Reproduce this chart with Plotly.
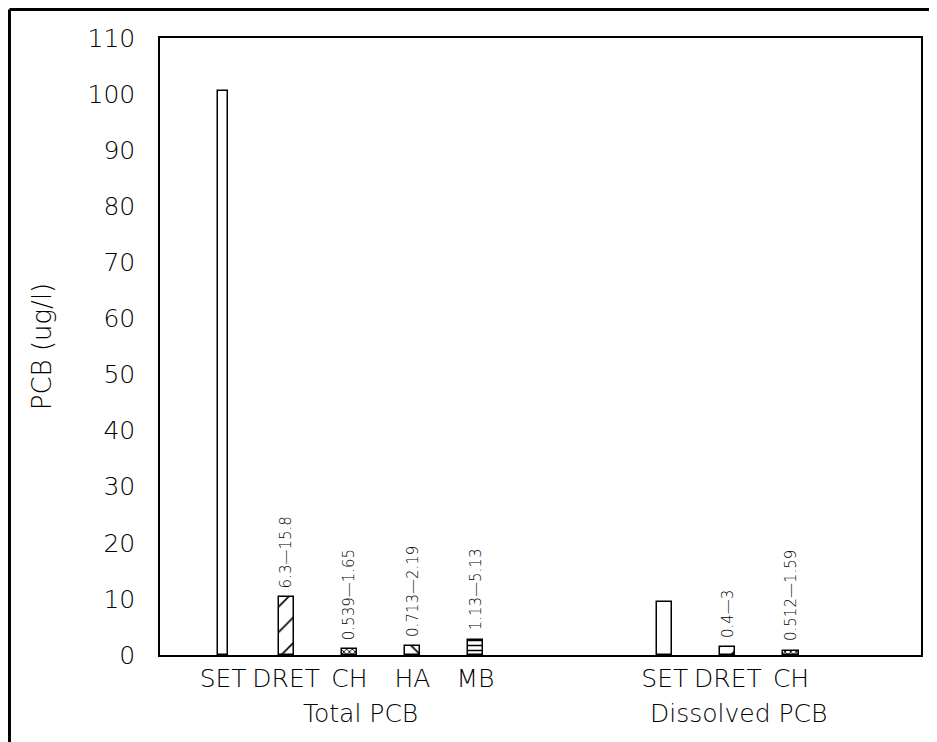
import plotly.graph_objects as go

# ---- data ----
categories = ["SET", "DRET", "CH", "HA", "MB", "SET", "DRET", "CH"]
groups = ["Total PCB"] * 5 + ["Dissolved PCB"] * 3
positions = [0, 1, 2, 3, 4, 7, 8, 9]
values = [100.5, 10.3, 1.0, 1.6, 2.7, 9.4, 1.4, 0.8]
range_labels = ["", "6.3\u201415.8", "0.539\u20141.65", "0.713\u20142.19", "1.13\u20145.13",
                "", "0.4\u20143", "0.512\u20141.59"]
group_names = ["Total PCB", "Dissolved PCB"]

patterns = ["", "/", "x", "\\", "-", "", "/", "x"]
pattern_sizes = [8, 18, 4, 14, 5, 8, 14, 4]
pattern_solidity = [0.2, 0.09, 0.4, 0.12, 0.3, 0.2, 0.12, 0.4]
widths = [0.17, 0.24, 0.24, 0.24, 0.24, 0.24, 0.24, 0.24]

FONT = dict(family="DejaVu Sans, sans-serif", color="black", weight=200)

fig = go.Figure()
fig.add_trace(go.Bar(
    x=positions, y=values, width=widths,
    marker=dict(color="white", line=dict(color="black", width=1.5),
                pattern=dict(shape=patterns, size=pattern_sizes, fgcolor="black",
                             bgcolor="white", fillmode="replace",
                             solidity=pattern_solidity)),
    showlegend=False, hoverinfo="x+y",
))

# rotated range labels above bars
for p, v, lab in zip(positions, values, range_labels):
    if lab:
        fig.add_annotation(x=p, y=v, xref="x", yref="y", text=lab, textangle=-90,
                           showarrow=False, yanchor="bottom", xanchor="center",
                           yshift=7, font=dict(size=15, **FONT))

# group labels
for g in group_names:
    xs = [p for p, gg in zip(positions, groups) if gg == g]
    fig.add_annotation(x=sum(xs) / len(xs), y=0, xref="x", yref="y", yshift=-58,
                       xshift=11, text=g, showarrow=False, yanchor="middle",
                       font=dict(size=25, **FONT))

# outer frame (top and left edges)
fig.add_shape(type="line", xref="paper", yref="paper", x0=-0.1978, x1=1.05,
              y0=1.0462, y1=1.0462, line=dict(color="black", width=3))
fig.add_shape(type="line", xref="paper", yref="paper", x0=-0.1978, x1=-0.1978,
              y0=1.0462, y1=-0.16, line=dict(color="black", width=3))

fig.update_layout(
    width=937, height=742,
    margin=dict(l=152, r=24, t=30, b=95, autoexpand=False),
    paper_bgcolor="white", plot_bgcolor="white",
    font=dict(size=25, **FONT),
    bargap=0,
)
fig.update_xaxes(range=[-1, 11.06], tickvals=positions, ticktext=categories,
                 showgrid=False, zeroline=False, ticks="", showline=True, mirror=True,
                 linecolor="black", linewidth=1.5, ticklabelstandoff=0, automargin=False,
                 tickfont=dict(size=25, **FONT))
fig.update_yaxes(range=[0, 110], dtick=10, showgrid=False, zeroline=False, ticks="",
                 showline=True, mirror=True, linecolor="black", linewidth=1.5,
                 ticklabelstandoff=18, automargin=False, tickfont=dict(size=25, **FONT),
                 title=dict(text="PCB (ug/l)", standoff=28, font=dict(size=26, **FONT)))

fig.write_html("out.html")
